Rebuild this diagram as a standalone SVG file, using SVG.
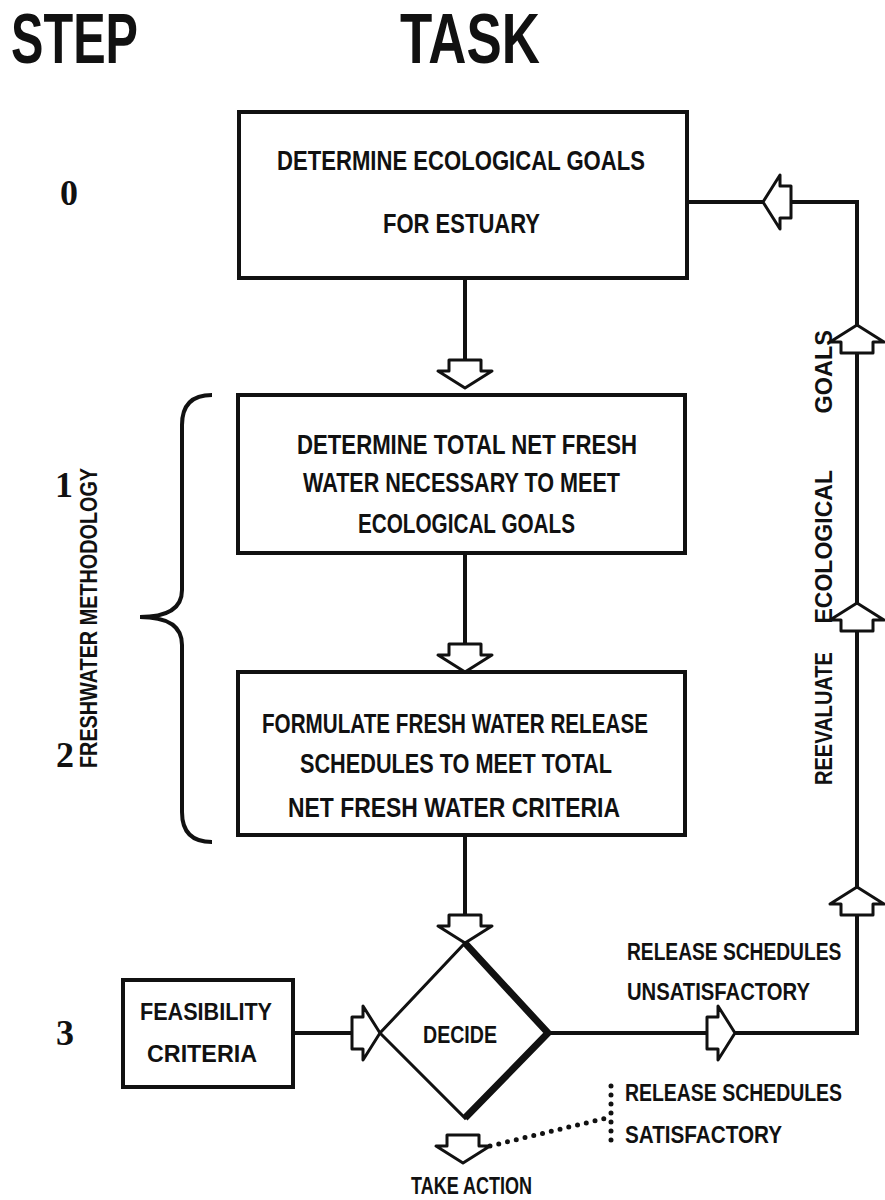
<svg xmlns="http://www.w3.org/2000/svg" width="885" height="1200" viewBox="0 0 885 1200">
<style>
.bg{fill:#fff}
.box{fill:#fff;stroke:#111;stroke-width:4}
.t{font-family:"Liberation Sans",Arial,sans-serif;font-weight:700;fill:#111;font-size:28px}
.lbl{font-family:"Liberation Sans",Arial,sans-serif;font-weight:700;fill:#111;font-size:24px}
.hd{font-family:"Liberation Sans",Arial,sans-serif;font-weight:700;fill:#111;font-size:70px}
.num{font-family:"Liberation Serif","Times New Roman",serif;font-weight:700;fill:#111;font-size:36px;text-anchor:middle}
.ln{fill:none;stroke:#111;stroke-width:4}
.dot{fill:none;stroke:#111;stroke-width:5;stroke-linecap:round;stroke-dasharray:0 9}
.arw{fill:#fff;stroke:#111;stroke-width:3;stroke-linejoin:round}
</style>
<defs>
<path id="arr" class="arw" d="M0,0 L-27,-17 L-16,-17 L-16,-28 L16,-28 L16,-17 L27,-17 Z"/>
</defs>
<rect class="bg" x="0" y="0" width="885" height="1200"/>

<g id="headers">
<text class="hd" x="11" y="63" textLength="127" lengthAdjust="spacingAndGlyphs">STEP</text>
<text class="hd" x="400" y="63" textLength="140" lengthAdjust="spacingAndGlyphs">TASK</text>
</g>

<g id="steps">
<text class="num" x="69" y="205">0</text>
<text class="num" x="64" y="497">1</text>
<text class="num" x="65" y="767">2</text>
<text class="num" x="65" y="1045">3</text>
</g>

<g id="methodology">
<path class="ln" d="M212,395 Q182,395 182,425 L182,590 Q182,617 140,617 Q182,617 182,645 L182,812 Q182,842 212,842"/>
<text class="lbl" font-size="23" font-weight="400" transform="translate(97,768) rotate(-90)" textLength="300" lengthAdjust="spacingAndGlyphs">FRESHWATER METHODOLOGY</text>
</g>

<g id="connectors">
<path class="ln" d="M465,278 V362"/>
<path class="ln" d="M465,553 V646"/>
<path class="ln" d="M465,835 V917"/>
<path class="ln" d="M293,1033 H353"/>
<path class="ln" stroke-width="5" d="M548,1033 H857 V202 H687"/>
<path class="dot" d="M490,1146 L611,1117"/>
<path class="dot" d="M611,1086 V1143"/>
<use href="#arr" transform="translate(465,388)"/>
<use href="#arr" transform="translate(465,672)"/>
<use href="#arr" transform="translate(465,943)"/>
<use href="#arr" transform="translate(380,1033) rotate(-90)"/>
<use href="#arr" transform="translate(735,1033) rotate(-90)"/>
<use href="#arr" transform="translate(857,887) rotate(180)"/>
<use href="#arr" transform="translate(857,603) rotate(180)"/>
<use href="#arr" transform="translate(857,325) rotate(180)"/>
<use href="#arr" transform="translate(763,202) rotate(90)"/>
<use href="#arr" transform="translate(463,1163)"/>
</g>

<g id="node0">
<rect class="box" x="239" y="112" width="448" height="166"/>
<text class="t" x="277" y="170" textLength="368" lengthAdjust="spacingAndGlyphs">DETERMINE  ECOLOGICAL  GOALS</text>
<text class="t" x="383" y="233" textLength="157" lengthAdjust="spacingAndGlyphs">FOR ESTUARY</text>
</g>

<g id="node1">
<rect class="box" x="238" y="395" width="447" height="158"/>
<text class="t" x="297" y="454" textLength="340" lengthAdjust="spacingAndGlyphs">DETERMINE TOTAL NET FRESH</text>
<text class="t" x="303" y="492" textLength="317" lengthAdjust="spacingAndGlyphs">WATER NECESSARY TO MEET</text>
<text class="t" x="358" y="533" textLength="217" lengthAdjust="spacingAndGlyphs">ECOLOGICAL GOALS</text>
</g>

<g id="node2">
<rect class="box" x="238" y="672" width="447" height="163"/>
<text class="t" x="262" y="733" textLength="386" lengthAdjust="spacingAndGlyphs">FORMULATE FRESH WATER RELEASE</text>
<text class="t" x="300" y="773" textLength="312" lengthAdjust="spacingAndGlyphs">SCHEDULES TO MEET TOTAL</text>
<text class="t" x="288" y="817" textLength="332" lengthAdjust="spacingAndGlyphs">NET FRESH WATER CRITERIA</text>
</g>

<g id="feasibility">
<rect class="box" x="123" y="980" width="170" height="107"/>
<text class="lbl" x="140" y="1020" textLength="132" lengthAdjust="spacingAndGlyphs">FEASIBILITY</text>
<text class="lbl" x="147" y="1062" textLength="110" lengthAdjust="spacingAndGlyphs">CRITERIA</text>
</g>

<g id="decide">
<polygon points="465,943 548,1033 465,1118 380,1033" fill="#fff" stroke="#111" stroke-width="3" stroke-linejoin="miter"/>
<path d="M465,943 L548,1033 L465,1118" fill="none" stroke="#111" stroke-width="7" stroke-linejoin="miter"/>
<text class="lbl" x="423" y="1043" textLength="74" lengthAdjust="spacingAndGlyphs">DECIDE</text>
</g>

<g id="labels">
<text class="lbl" transform="translate(627,960) scale(0.8,1)">RELEASE SCHEDULES</text>
<text class="lbl" x="627" y="1000" textLength="183" lengthAdjust="spacingAndGlyphs">UNSATISFACTORY</text>
<text class="lbl" transform="translate(625,1101) scale(0.81,1)">RELEASE SCHEDULES</text>
<text class="lbl" x="625" y="1143" textLength="157" lengthAdjust="spacingAndGlyphs">SATISFACTORY</text>
<text class="lbl" x="411" y="1194" textLength="121" lengthAdjust="spacingAndGlyphs">TAKE ACTION</text>
<text class="lbl" font-size="22" transform="translate(832,785) rotate(-90)"><tspan x="0" textLength="133" lengthAdjust="spacingAndGlyphs">REEVALUATE</tspan><tspan x="155" textLength="160" lengthAdjust="spacingAndGlyphs"> ECOLOGICAL</tspan><tspan x="365" textLength="90" lengthAdjust="spacingAndGlyphs"> GOALS</tspan></text>
</g>
</svg>
